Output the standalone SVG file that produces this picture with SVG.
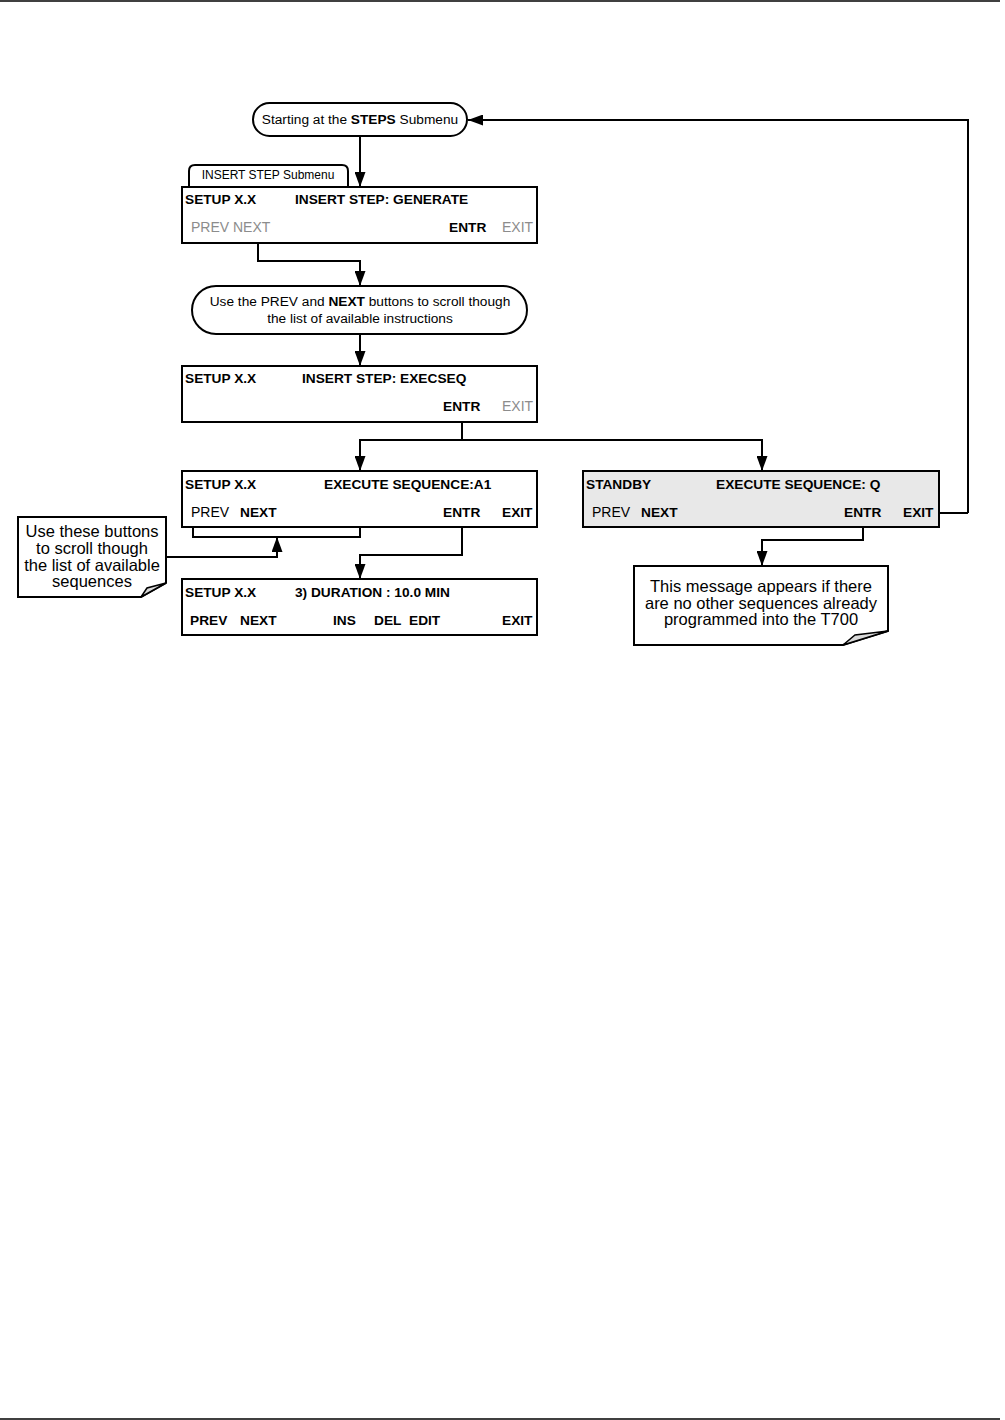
<svg xmlns="http://www.w3.org/2000/svg" width="1005" height="1420" viewBox="0 0 1005 1420">
<defs>
<marker id="ah" viewBox="0 0 15 11" refX="15" refY="5.5" markerWidth="15" markerHeight="11" markerUnits="userSpaceOnUse" orient="auto">
<path d="M0,0 L15,5.5 L0,11 Z" fill="#000"/>
</marker>
</defs>
<style>
text{font-family:"Liberation Sans",Arial,sans-serif;fill:#000}
.b{font-weight:bold;font-size:13.7px}
.n{font-size:14px}
.g{fill:#8c8c8c;font-size:14px}
.box{fill:#fff;stroke:#000;stroke-width:2}
.gbox{fill:#e8e8e8;stroke:#000;stroke-width:2}
.ln{fill:none;stroke:#000;stroke-width:2}
.cl{font-size:16.5px}
.ov{font-size:13.7px}
</style>
<rect width="1005" height="1420" fill="#fff"/>
<line x1="0" y1="1" x2="1000" y2="1" stroke="#000" stroke-width="1.5"/>
<line x1="0" y1="1419" x2="1000" y2="1419" stroke="#000" stroke-width="1.5"/>

<g id="connectors">
<path class="ln" d="M968,513 L968,120 L468,120" marker-end="url(#ah)"/>
<path class="ln" d="M360,136 L360,187" marker-end="url(#ah)"/>
<path class="ln" d="M258,237 L258,261 L360,261 L360,286" marker-end="url(#ah)"/>
<path class="ln" d="M360,334 L360,366" marker-end="url(#ah)"/>
<path class="ln" d="M462,416 L462,440 L360,440 L360,471" marker-end="url(#ah)"/>
<path class="ln" d="M462,440 L762,440 L762,471" marker-end="url(#ah)"/>
<path class="ln" d="M193,509 L193,537 L360,537 L360,513"/>
<path class="ln" d="M166,557 L277,557 L277,537" marker-end="url(#ah)"/>
<path class="ln" d="M462,521 L462,555 L360,555 L360,579" marker-end="url(#ah)"/>
<path class="ln" d="M933,513 L968,513"/>
<path class="ln" d="M863,521 L863,540 L762,540 L762,566" marker-end="url(#ah)"/>
</g>

<g id="start">
<rect class="box" x="253" y="103" width="214" height="33" rx="16.5" ry="16.5"/>
<text class="ov" x="360" y="124" text-anchor="middle">Starting at the <tspan font-weight="bold">STEPS</tspan> Submenu</text>
</g>

<g id="tab">
<path class="box" d="M189,187 L189,171 Q189,165 195,165 L342,165 Q348,165 348,171 L348,187" stroke-width="1.5"/>
<text x="268" y="179" text-anchor="middle" font-size="12">INSERT STEP Submenu</text>
</g>

<g id="box1">
<rect class="box" x="182" y="187" width="355" height="56"/>
<text class="b" x="185" y="204">SETUP X.X</text>
<text class="b" x="295" y="204">INSERT STEP: GENERATE</text>
<text class="g" x="191" y="232">PREV NEXT</text>
<text class="b" x="449" y="232">ENTR</text>
<text class="g" x="502" y="232">EXIT</text>
</g>

<g id="oval2">
<rect class="box" x="192" y="286" width="335" height="48" rx="24" ry="24"/>
<text class="ov" x="360" y="306" text-anchor="middle">Use the PREV and  <tspan font-weight="bold">NEXT</tspan> buttons to scroll though</text>
<text class="ov" x="360" y="323" text-anchor="middle">the list of available instructions</text>
</g>

<g id="box2">
<rect class="box" x="182" y="366" width="355" height="56"/>
<text class="b" x="185" y="383">SETUP X.X</text>
<text class="b" x="302" y="383">INSERT STEP: EXECSEQ</text>
<text class="b" x="443" y="411">ENTR</text>
<text class="g" x="502" y="411">EXIT</text>
</g>

<g id="box3">
<rect class="box" x="182" y="471" width="355" height="56"/>
<text class="b" x="185" y="489">SETUP X.X</text>
<text class="b" x="324" y="489">EXECUTE SEQUENCE:A1</text>
<text class="n" x="191" y="517">PREV</text>
<text class="b" x="240" y="517">NEXT</text>
<text class="b" x="443" y="517">ENTR</text>
<text class="b" x="502" y="517">EXIT</text>
</g>

<g id="box4">
<rect class="box" x="182" y="579" width="355" height="56"/>
<text class="b" x="185" y="597">SETUP X.X</text>
<text class="b" x="295" y="597">3) DURATION : 10.0 MIN</text>
<text class="b" x="190" y="625">PREV</text>
<text class="b" x="240" y="625">NEXT</text>
<text class="b" x="333" y="625">INS</text>
<text class="b" x="374" y="625">DEL</text>
<text class="b" x="409" y="625">EDIT</text>
<text class="b" x="502" y="625">EXIT</text>
</g>

<g id="callout-left">
<path class="box" stroke-width="1.5" d="M18,517 L166,517 L166,583 L141,597 L18,597 Z"/>
<path fill="#d9d9d9" stroke="#000" stroke-width="1.5" d="M141,597 L147,588 L166,583 Z"/>
<text class="cl" x="92" y="537" text-anchor="middle">Use these buttons</text>
<text class="cl" x="92" y="554" text-anchor="middle">to scroll though</text>
<text class="cl" x="92" y="571" text-anchor="middle">the list of available</text>
<text class="cl" x="92" y="587" text-anchor="middle">sequences</text>
</g>

<g id="standby">
<rect class="gbox" x="583" y="471" width="356" height="56"/>
<text class="b" x="586" y="489">STANDBY</text>
<text class="b" x="716" y="489">EXECUTE SEQUENCE: Q</text>
<text class="n" x="592" y="517">PREV</text>
<text class="b" x="641" y="517">NEXT</text>
<text class="b" x="844" y="517">ENTR</text>
<text class="b" x="903" y="517">EXIT</text>
</g>

<g id="callout-right">
<path class="box" stroke-width="1.5" d="M634,566 L888,566 L888,631 L843,645 L634,645 Z"/>
<path fill="#d9d9d9" stroke="#000" stroke-width="1.5" d="M843,645 L855,635 L888,631 Z"/>
<text class="cl" x="761" y="592" text-anchor="middle">This message appears if there</text>
<text class="cl" x="761" y="609" text-anchor="middle">are no other sequences already</text>
<text class="cl" x="761" y="625" text-anchor="middle">programmed into the T700</text>
</g>
</svg>
